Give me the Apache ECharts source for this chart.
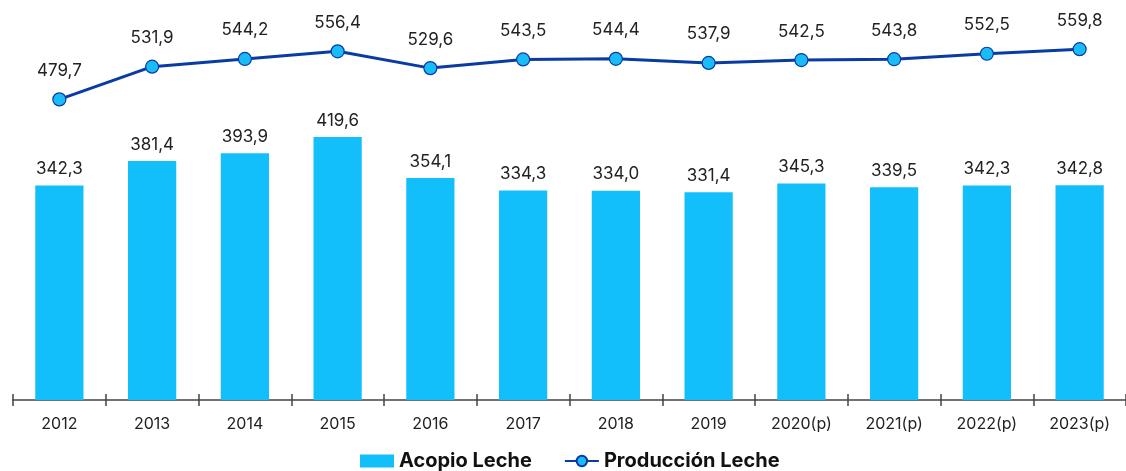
<!DOCTYPE html>
<html>
<head>
<meta charset="utf-8">
<script src="https://cdn.jsdelivr.net/npm/echarts@6/dist/echarts.min.js"></script>
<style>
  html, body { margin: 0; padding: 0; background: #fff; }
  #leche { width: 1126px; height: 471px; }
</style>
</head>
<body>
<div id="leche"></div>
<script>
// datos (miles de toneladas)
const years = ["2012", "2013", "2014", "2015", "2016", "2017", "2018", "2019", "2020(p)", "2021(p)", "2022(p)", "2023(p)"];
const acopio = [342.3, 381.4, 393.9, 419.6, 354.1, 334.3, 334.0, 331.4, 345.3, 339.5, 342.3, 342.8];
const produccion = [479.7, 531.9, 544.2, 556.4, 529.6, 543.5, 544.4, 537.9, 542.5, 543.8, 552.5, 559.8];

const font = "Inter, 'Open Sans', sans-serif";
const fmt = p => p.value.toFixed(1).replace(".", ",");

let myChart = echarts.init(document.getElementById("leche"));
let option = {
  textStyle: { fontFamily: font },
  // el eje sigue más allá del borde derecho, como en el original
  grid: { left: 13, right: -7, top: 24, bottom: 71 },
  legend: {
    bottom: -5,
    left: 355,
    itemGap: 32,
    itemWidth: 34,
    itemHeight: 13,
    textStyle: { fontFamily: font, fontSize: 20, fontWeight: "bold", color: "#111" },
    data: [
      { name: "Acopio Leche", icon: "rect" },
      { name: "Producción Leche" }
    ]
  },
  xAxis: [
    {
      type: "category",
      data: years,
      axisLine: { lineStyle: { color: "#444", width: 1.5 } },
      axisTick: { show: true, length: 6, lineStyle: { color: "#444", width: 1.5 } },
      axisLabel: { color: "#222", fontSize: 16, margin: 16, fontFamily: font }
    },
    {
      type: "category",
      data: years,
      position: "bottom",
      axisLine: { show: false },
      axisTick: { show: true, inside: true, length: 6, lineStyle: { color: "#444", width: 1.5 } },
      axisLabel: { show: false }
    }
  ],
  yAxis: {
    type: "value",
    min: 0,
    max: 600,
    show: false,
    splitLine: { show: false }
  },
  series: [
    {
      name: "Acopio Leche",
      type: "bar",
      data: acopio,
      barWidth: "52%",
      itemStyle: { color: "#13BFFB" },
      label: {
        show: true,
        position: "top",
        distance: 8,
        fontSize: 17,
        color: "#222",
        formatter: fmt
      }
    },
    {
      name: "Producción Leche",
      type: "line",
      data: produccion,
      symbol: "circle",
      symbolSize: 13,
      lineStyle: { color: "#0A3BA5", width: 3 },
      itemStyle: { color: "#1ABCF7", borderColor: "#0A3BA5", borderWidth: 1.2 },
      label: {
        show: true,
        position: "top",
        distance: 13,
        fontSize: 17,
        color: "#222",
        formatter: fmt
      }
    }
  ]
};
myChart.setOption(option);
</script>
</body>
</html>
